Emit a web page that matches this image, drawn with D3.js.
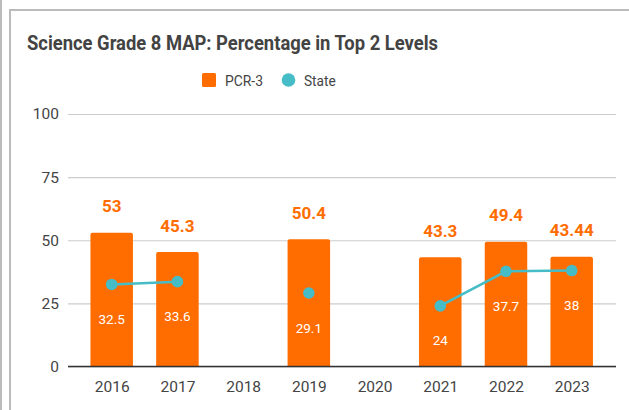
<!DOCTYPE html>
<html><head><meta charset="utf-8">
<script src="https://cdn.jsdelivr.net/npm/d3@7"></script>
<style>body{margin:0;background:#fff;}svg{display:block;font-family:Roboto,sans-serif;}</style>
</head><body>
<svg id="c" width="629" height="410"></svg>
<script>
const years = ["2016","2017","2018","2019","2020","2021","2022","2023"];
const pcrValues = [53, 45.3, null, 50.4, null, 43.3, 49.4, 43.44];
const pcrLabels = ["53","45.3","","50.4","","43.3","49.4","43.44"];
const stateValues = [32.5, 33.6, null, 29.1, null, 24, 37.7, 38];
const stateLabels = ["32.5","33.6","","29.1","","24","37.7","38"];
const yTicks = [0, 25, 50, 75, 100];
const title = "Science Grade 8 MAP: Percentage in Top 2 Levels";
const seriesNames = ["PCR-3", "State"];

const orange = "#ff6d01", teal = "#46bdc6";
const svg = d3.select("#c");

// frame
svg.append("line").attr("x1",1).attr("x2",1).attr("y1",0).attr("y2",410).attr("stroke","#bbb").attr("stroke-width",2);
svg.append("rect").attr("x",10).attr("y",10).attr("width",640).attr("height",420).attr("fill","none").attr("stroke","#bbb").attr("stroke-width",2);

svg.append("text").attr("x",27).attr("y",50).attr("font-size",21).attr("font-weight","bold").attr("fill","#434343")
  .attr("textLength",411).attr("lengthAdjust","spacingAndGlyphs").text(title);

// legend
svg.append("rect").attr("x",202).attr("y",73).attr("width",14).attr("height",14).attr("rx",1.5).attr("fill",orange);
svg.append("text").attr("x",225).attr("y",86).attr("font-size",15.5).attr("fill","#444")
  .attr("textLength",38).attr("lengthAdjust","spacingAndGlyphs").text(seriesNames[0]);
svg.append("circle").attr("cx",288.5).attr("cy",80).attr("r",6.8).attr("fill",teal);
svg.append("text").attr("x",304).attr("y",86).attr("font-size",15.5).attr("fill","#444")
  .attr("textLength",31.7).attr("lengthAdjust","spacingAndGlyphs").text(seriesNames[1]);

const y = d3.scaleLinear().domain([0,100]).range([366.5,114]);
const x = d3.scalePoint().domain(years).range([111.7,571.7]);
const bw = x.step()*0.647;

// gridlines
const yAxis = d3.axisLeft(y).tickValues(yTicks).tickSize(-548).tickPadding(9);
const ga = svg.append("g").attr("transform","translate(68,0)").call(yAxis);
ga.select(".domain").remove();
ga.selectAll(".tick line").attr("stroke","#ccc").attr("stroke-width",1.2);
ga.selectAll(".tick text").attr("font-size",15.5).attr("fill","#444").attr("font-family","Roboto");

// bars
svg.append("g").selectAll("path").data(years.map((d,i)=>({d,v:pcrValues[i]})).filter(o=>o.v!=null))
 .join("path")
 .attr("d",o=>{const x0=x(o.d)-bw/2,x1=x(o.d)+bw/2,y0=y(o.v),y1=y(0),r=2;
   return `M${x0},${y1}V${y0+r}Q${x0},${y0} ${x0+r},${y0}H${x1-r}Q${x1},${y0} ${x1},${y0+r}V${y1}Z`;})
 .attr("fill",orange);

// zero line
svg.append("line").attr("x1",68).attr("x2",616).attr("y1",y(0)).attr("y2",y(0)).attr("stroke","#333").attr("stroke-width",1.5);

// x axis labels
const xAxis = d3.axisBottom(x).tickSize(0).tickPadding(14);
const gx = svg.append("g").attr("transform",`translate(0,${y(0)})`).call(xAxis);
gx.select(".domain").remove();
gx.selectAll(".tick text").attr("font-size",15.5).attr("fill","#444").attr("font-family","Roboto");

// line
const line = d3.line().defined(d=>d.v!=null).x(d=>x(d.d)).y(d=>y(d.v));
const pts = years.map((d,i)=>({d,v:stateValues[i],l:stateLabels[i]}));
svg.append("path").datum(pts).attr("d",line).attr("fill","none").attr("stroke",teal).attr("stroke-width",2.5);
svg.append("g").selectAll("circle").data(pts.filter(p=>p.v!=null)).join("circle")
 .attr("cx",p=>x(p.d)).attr("cy",p=>y(p.v)).attr("r",5.8).attr("fill",teal);

// labels
svg.append("g").selectAll("text").data(years.map((d,i)=>({d,v:pcrValues[i],l:pcrLabels[i]})).filter(o=>o.v!=null))
 .join("text").attr("x",o=>x(o.d)).attr("y",o=>y(o.v)-20.5).attr("text-anchor","middle")
 .attr("font-size",17).attr("font-weight","bold").attr("fill",orange).text(o=>o.l);
svg.append("g").selectAll("text").data(pts.filter(p=>p.v!=null))
 .join("text").attr("x",p=>x(p.d)).attr("y",p=>y(p.v)+39.5).attr("text-anchor","middle")
 .attr("font-size",13.5).attr("fill","#fff").text(p=>p.l);
</script>
</body></html>
